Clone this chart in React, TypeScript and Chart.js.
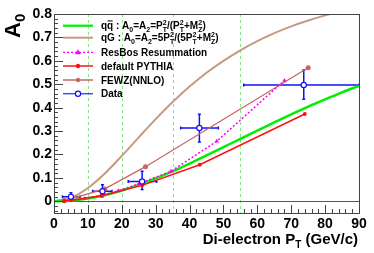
import React, { useEffect, useRef } from 'react';
import { Chart, registerables } from 'chart.js';
Chart.register(...registerables);

// ---- data ----
const curvePt = [0, 5, 10, 15, 20, 25, 30, 35, 40, 45, 50, 55, 60, 65, 70, 75, 80, 85, 90];
const qqbarA0 = [0, 0.003, 0.012, 0.026, 0.046, 0.07, 0.098, 0.128, 0.161, 0.196, 0.231, 0.267, 0.302, 0.337, 0.371, 0.404, 0.435, 0.465, 0.493];
const qgA0 = [0, 0.015, 0.057, 0.119, 0.194, 0.273, 0.351, 0.424, 0.49, 0.549, 0.6, 0.645, 0.684, 0.718, 0.747, 0.772, 0.794, 0.813, 0.83];

const resbosPt = [3, 5, 9, 14, 19, 25, 34.5, 48, 68];
const resbosA0 = [0.002, 0.005, 0.011, 0.025, 0.045, 0.075, 0.128, 0.256, 0.516];

const pythiaPt = [3, 5, 14, 26, 43, 74];
const pythiaA0 = [0.001, 0.004, 0.024, 0.068, 0.156, 0.373];

const fewzPt = [3, 5, 15, 27, 75];
const fewzA0 = [0.002, 0.01, 0.053, 0.148, 0.57];

const dataPt = [5, 14.3, 26, 42.9, 73.7];
const dataA0 = [0.019, 0.043, 0.085, 0.313, 0.497];
const dataPtLo = [2.5, 11.4, 21.9, 37.4, 56];
const dataPtHi = [7.7, 17.1, 30.3, 48.5, 90];
const dataA0Lo = [0.007, 0.019, 0.05, 0.253, 0.436];
const dataA0Hi = [0.036, 0.071, 0.128, 0.372, 0.561];

const xTicks = [0, 10, 20, 30, 40, 50, 60, 70, 80, 90];
const yTicks = [0, 0.1, 0.2, 0.3, 0.4, 0.5, 0.6, 0.7, 0.8];
const dashedPt = [10, 20, 35, 55];

const legendLabels = ['qq', 'qG', 'ResBos Resummation', 'default PYTHIA', 'FEWZ(NNLO)', 'Data'];

const GREEN = '#00ee00';
const TAN = '#c29c82';
const MAGENTA = '#ff00ff';
const RED = '#ff1010';
const ROSY = '#cc6262';
const BLUE = '#1010ff';
const FONT = '"Liberation Sans", Arial, sans-serif';

const pts = (xs: number[], ys: number[]) => xs.map((v, i) => ({ x: v, y: ys[i] }));

type Part = { t: string; k?: 'sub' | 'sup' | 'ss'; s2?: string; bar?: boolean };

function drawRich(ctx: CanvasRenderingContext2D, parts: Part[], x: number, y: number, size: number) {
  const small = Math.round(size * 0.7);
  let cx = x;
  for (const p of parts) {
    if (!p.k) {
      ctx.font = `bold ${size}px ${FONT}`;
      ctx.fillText(p.t, cx, y);
      const w = ctx.measureText(p.t).width;
      if (p.bar) {
        const qw = ctx.measureText('q').width;
        ctx.save();
        ctx.lineWidth = 1;
        ctx.beginPath();
        ctx.moveTo(cx + w - qw + 0.5, y - size * 0.78);
        ctx.lineTo(cx + w - 0.5, y - size * 0.78);
        ctx.strokeStyle = ctx.fillStyle as string;
        ctx.stroke();
        ctx.restore();
      }
      cx += w;
    } else {
      ctx.font = `bold ${small}px ${FONT}`;
      if (p.k === 'sub') {
        ctx.fillText(p.t, cx, y + size * 0.3);
        cx += ctx.measureText(p.t).width;
      } else if (p.k === 'sup') {
        ctx.fillText(p.t, cx, y - size * 0.4);
        cx += ctx.measureText(p.t).width;
      } else {
        ctx.fillText(p.t, cx, y - size * 0.4);
        ctx.fillText(p.s2 || '', cx, y + size * 0.35);
        cx += Math.max(ctx.measureText(p.t).width, ctx.measureText(p.s2 || '').width);
      }
    }
  }
  return cx - x;
}

function drawMarker(ctx: CanvasRenderingContext2D, kind: string, x: number, y: number, color: string) {
  ctx.save();
  ctx.fillStyle = color;
  ctx.strokeStyle = color;
  if (kind === 'circle') {
    ctx.beginPath();
    ctx.arc(x, y, 2.2, 0, Math.PI * 2);
    ctx.fill();
  } else if (kind === 'tri') {
    ctx.beginPath();
    ctx.moveTo(x, y - 3);
    ctx.lineTo(x + 3, y + 2);
    ctx.lineTo(x - 3, y + 2);
    ctx.closePath();
    ctx.fill();
  } else if (kind === 'open') {
    ctx.fillStyle = '#fff';
    ctx.lineWidth = 1.2;
    ctx.beginPath();
    ctx.arc(x, y, 2.6, 0, Math.PI * 2);
    ctx.fill();
    ctx.stroke();
  }
  ctx.restore();
}

const deco = {
  id: 'deco',
  beforeDatasetsDraw(chart: any) {
    const { ctx, chartArea: a, scales } = chart;
    const x = scales.x, y = scales.y;
    ctx.save();
    ctx.strokeStyle = '#8ee08e';
    ctx.lineWidth = 1;
    ctx.setLineDash([3, 3]);
    for (const v of dashedPt) {
      const px = Math.round(x.getPixelForValue(v)) + 0.5;
      ctx.beginPath();
      ctx.moveTo(px, a.top);
      ctx.lineTo(px, a.bottom);
      ctx.stroke();
    }
    ctx.setLineDash([]);
    const y0 = Math.round(y.getPixelForValue(0)) + 0.5;
    ctx.strokeStyle = '#555';
    ctx.beginPath();
    ctx.moveTo(a.left, y0);
    ctx.lineTo(a.right, y0);
    ctx.stroke();
    // error bars
    ctx.strokeStyle = BLUE;
    ctx.lineWidth = 1.5;
    for (let i = 0; i < dataPt.length; i++) {
      const px = x.getPixelForValue(dataPt[i]);
      const py = y.getPixelForValue(dataA0[i]);
      const xl = x.getPixelForValue(dataPtLo[i]);
      const xh = x.getPixelForValue(dataPtHi[i]);
      const yl = y.getPixelForValue(dataA0Lo[i]);
      const yh = y.getPixelForValue(dataA0Hi[i]);
      ctx.beginPath();
      ctx.moveTo(xl, py); ctx.lineTo(xh, py);
      ctx.moveTo(px, yl); ctx.lineTo(px, yh);
      ctx.moveTo(px - 1.5, yl); ctx.lineTo(px + 1.5, yl);
      ctx.moveTo(px - 1.5, yh); ctx.lineTo(px + 1.5, yh);
      ctx.moveTo(xl, py - 1.5); ctx.lineTo(xl, py + 1.5);
      ctx.moveTo(xh, py - 1.5); ctx.lineTo(xh, py + 1.5);
      ctx.stroke();
    }
    ctx.restore();
  },
  afterDraw(chart: any) {
    const { ctx, chartArea: a, scales } = chart;
    const x = scales.x, y = scales.y;
    ctx.save();
    // frame
    ctx.strokeStyle = '#444';
    ctx.lineWidth = 1;
    ctx.strokeRect(Math.round(a.left) + 0.5, Math.round(a.top) + 0.5, Math.round(a.right - a.left), Math.round(a.bottom - a.top));
    // ticks
    ctx.beginPath();
    for (let v = 0; v <= 90.001; v += 2) {
      const px = Math.round(x.getPixelForValue(v)) + 0.5;
      const len = Math.abs(v % 10) < 0.001 ? 8 : 4;
      ctx.moveTo(px, a.bottom);
      ctx.lineTo(px, a.bottom - len);
    }
    for (let k = -2; k <= 40; k++) {
      const v = k * 0.02;
      const py = Math.round(y.getPixelForValue(v)) + 0.5;
      const len = k % 5 === 0 ? 9 : 4;
      ctx.moveTo(a.left, py);
      ctx.lineTo(a.left + len, py);
    }
    ctx.stroke();

    // legend
    const lx0 = 63, lx1 = 93, tx = 101;
    const rows = [25.7, 37.7, 52.3, 66, 80, 93.7];
    const styles = [
      { c: GREEN, w: 2.2, dash: [] as number[], m: '' },
      { c: TAN, w: 2, dash: [], m: '' },
      { c: MAGENTA, w: 1.2, dash: [2, 2], m: 'tri' },
      { c: RED, w: 2, dash: [], m: 'circle' },
      { c: ROSY, w: 2, dash: [], m: 'circle' },
      { c: BLUE, w: 1.5, dash: [], m: 'open' },
    ];
    styles.forEach((s, i) => {
      ctx.save();
      ctx.strokeStyle = s.c;
      ctx.globalAlpha = i >= 3 ? 0.75 : 1;
      ctx.lineWidth = s.w;
      ctx.setLineDash(s.dash);
      ctx.beginPath();
      ctx.moveTo(lx0, rows[i]);
      ctx.lineTo(lx1, rows[i]);
      ctx.stroke();
      ctx.restore();
      if (s.m) drawMarker(ctx, s.m, (lx0 + lx1) / 2, rows[i], s.c);
    });
    ctx.fillStyle = '#000';
    ctx.textBaseline = 'alphabetic';
    ctx.textAlign = 'left';
    drawRich(ctx, [
      { t: legendLabels[0], bar: true }, { t: ' : A' }, { t: '0', k: 'sub' }, { t: '=A' }, { t: '2', k: 'sub' },
      { t: '=P' }, { t: '2', k: 'ss', s2: 'T' }, { t: '/(P' }, { t: '2', k: 'ss', s2: 'T' },
      { t: '+M' }, { t: '2', k: 'ss', s2: 'Z' }, { t: ')' },
    ], tx, rows[0] + 3, 10);
    drawRich(ctx, [
      { t: legendLabels[1] }, { t: ' : A' }, { t: '0', k: 'sub' }, { t: '=A' }, { t: '2', k: 'sub' },
      { t: '=5P' }, { t: '2', k: 'ss', s2: 'T' }, { t: '/(5P' }, { t: '2', k: 'ss', s2: 'T' },
      { t: '+M' }, { t: '2', k: 'ss', s2: 'Z' }, { t: ')' },
    ], tx, rows[1] + 3, 10);
    ctx.font = `bold 10px ${FONT}`;
    for (let i = 2; i < 6; i++) ctx.fillText(legendLabels[i], tx, rows[i] + 3.5);

    // y title (rotated)
    ctx.save();
    ctx.translate(20, 38);
    ctx.rotate(-Math.PI / 2);
    ctx.font = `bold 22px ${FONT}`;
    ctx.fillText('A', 0, 0);
    const aw = ctx.measureText('A').width;
    ctx.font = `bold 15px ${FONT}`;
    ctx.fillText('0', aw, 5);
    ctx.restore();

    // x title
    ctx.font = `bold 15px ${FONT}`;
    const p1 = 'Di-electron P', p2 = ' (GeV/c)';
    const w1 = ctx.measureText(p1).width, w3 = ctx.measureText(p2).width;
    ctx.font = `bold 10px ${FONT}`;
    const w2 = ctx.measureText('T').width;
    const startX = 358 - (w1 + w2 + w3);
    const by = 244;
    ctx.font = `bold 15px ${FONT}`;
    ctx.fillText(p1, startX, by);
    ctx.font = `bold 10px ${FONT}`;
    ctx.fillText('T', startX + w1, by + 4);
    ctx.font = `bold 15px ${FONT}`;
    ctx.fillText(p2, startX + w1 + w2, by);
    ctx.restore();
  },
};

export default function App() {
  const ref = useRef<HTMLCanvasElement>(null);
  useEffect(() => {
    if (!ref.current) return;
    const tickFont = { family: FONT, size: 14, weight: 'bold' as const };
    const chart = new Chart(ref.current, {
      type: 'scatter',
      data: {
        datasets: [
          {
            label: 'Data', data: pts(dataPt, dataA0), showLine: false,
            pointStyle: 'circle', pointRadius: 2.6, pointBorderWidth: 1.2,
            pointBackgroundColor: '#fff', pointBorderColor: BLUE, borderColor: BLUE,
          },
          {
            label: 'default PYTHIA', data: pts(pythiaPt, pythiaA0), showLine: true,
            borderColor: RED, borderWidth: 1.5, pointRadius: 2, pointBackgroundColor: RED, pointBorderWidth: 0,
          },
          {
            label: 'ResBos Resummation', data: pts(resbosPt, resbosA0), showLine: true,
            borderColor: MAGENTA, borderWidth: 1.5, borderDash: [2, 2], pointStyle: 'triangle',
            pointRadius: 2.5, pointBackgroundColor: MAGENTA, pointBorderWidth: 0,
          },
          {
            label: 'qqbar', data: pts(curvePt, qqbarA0), showLine: true,
            borderColor: GREEN, borderWidth: 2.5, pointRadius: 0, cubicInterpolationMode: 'monotone',
          },
          {
            label: 'FEWZ(NNLO)', data: pts(fewzPt, fewzA0), showLine: true,
            borderColor: ROSY, borderWidth: 1.2, pointRadius: 2.5, pointBackgroundColor: ROSY, pointBorderWidth: 0,
          },
          {
            label: 'qG', data: pts(curvePt, qgA0), showLine: true,
            borderColor: TAN, borderWidth: 2, pointRadius: 0, cubicInterpolationMode: 'monotone',
          },
        ],
      },
      options: {
        responsive: false,
        animation: false,
        layout: { padding: { left: 0, top: 14, right: 15, bottom: 0 } },
        plugins: { legend: { display: false }, tooltip: { enabled: false }, title: { display: false } },
        scales: {
          x: {
            type: 'linear', min: 0, max: 90,
            afterBuildTicks: (s: any) => { s.ticks = xTicks.map((v) => ({ value: v })); },
            afterFit: (s: any) => { s.height = 40; },
            grid: { display: false, drawTicks: false },
            border: { display: false },
            ticks: { font: tickFont, color: '#000', padding: 3, maxRotation: 0, autoSkip: false },
          },
          y: {
            type: 'linear', min: -0.05, max: 0.8,
            afterBuildTicks: (s: any) => { s.ticks = yTicks.map((v) => ({ value: v })); },
            afterFit: (s: any) => { s.width = 54; },
            grid: { display: false, drawTicks: false },
            border: { display: false },
            ticks: {
              font: tickFont, color: '#000', padding: 2, autoSkip: false,
              callback: (v: any) => (v === 0 ? '0' : Number(v).toFixed(1)),
            },
          },
        },
      },
      plugins: [deco],
    });
    return () => chart.destroy();
  }, []);
  return (
    <div style={{ position: 'fixed', left: 0, top: 0, width: 374, height: 253, background: '#fff' }}>
      <canvas ref={ref} width={374} height={253} style={{ display: 'block' }} />
    </div>
  );
}
